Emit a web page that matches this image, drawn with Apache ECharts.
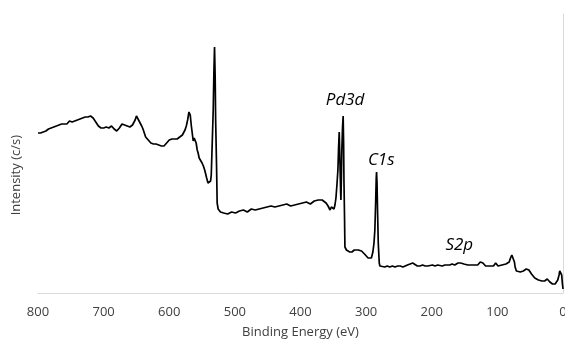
<!DOCTYPE html>
<html>
<head>
<meta charset="utf-8">
<script src="https://cdn.jsdelivr.net/npm/echarts@6/dist/echarts.min.js"></script>
<style>
html, body {margin: 0; padding: 0; background: #fff;}
#main {width: 565px; height: 344px;}
</style>
</head>
<body>
<div id="main"></div>
<script>
// XPS survey spectrum, [binding energy (eV), intensity]
var survey = [
    [800, 160], [798, 158], [796, 160], [794, 159], [792, 161], [790, 160], [788, 162], [786, 161], [784, 164], [782, 163],
    [780, 165], [778, 164], [776, 166], [774, 165], [772, 167], [770, 166], [768, 168], [766, 167], [764, 169], [762, 168],
    [760, 169], [758, 170], [756, 169], [754, 170], [752, 172], [750, 170], [748, 171], [746, 170], [744, 172], [742, 171],
    [740, 173], [738, 172], [736, 174], [734, 173], [732, 175], [730, 174], [728, 176], [726, 177], [724, 176], [722, 178],
    [720, 177], [718, 176], [716, 175], [714, 173], [712, 171], [710, 169], [708, 167], [706, 166], [704, 165], [702, 166],
    [700, 165], [698, 167], [696, 166], [694, 164], [692, 165], [690, 166], [688, 167], [686, 165], [684, 164], [682, 163],
    [680, 162], [678, 163], [676, 165], [674, 167], [672, 169], [670, 170], [668, 168], [666, 166], [664, 167], [662, 166],
    [660, 166], [658, 167], [656, 168], [654, 170], [652, 173], [650, 177], [648, 175], [646, 172], [644, 170], [642, 167],
    [640, 164], [638, 160], [636, 156], [634, 154], [632, 153], [630, 152], [628, 150], [626, 151], [624, 149], [622, 148],
    [620, 149], [618, 147], [616, 148], [614, 146], [612, 147], [610, 148], [608, 147], [606, 149], [604, 150], [602, 151],
    [600, 153], [598, 152], [596, 154], [594, 153], [592, 154], [590, 155], [588, 154], [586, 155], [584, 156], [582, 157],
    [580, 158], [578, 160], [576, 163], [574, 167], [572, 173], [570, 181], [569, 182], [568, 178], [566.5, 168], [565, 160],
    [563.5, 152], [562, 155], [560.5, 157], [559, 150], [557.4, 143], [556, 140], [554.4, 135], [552, 133], [550, 130], [548, 127],
    [546, 123], [545, 121], [543, 115], [541, 110], [539, 108], [537, 112], [536, 118], [534.5, 150], [533, 183], [532, 220],
    [531, 246], [530, 215], [529.3, 173], [528, 130], [527, 90], [525.5, 84], [524, 82], [522, 81], [519.4, 81], [517, 80],
    [514, 81], [511, 79], [508, 80], [505, 81], [502, 79], [499, 80], [496, 81], [493, 82], [490, 81], [487, 83],
    [484, 82], [481, 81], [478, 83], [475, 84], [472, 82], [469, 83], [466, 85], [463, 84], [460, 83], [457, 85],
    [454, 84], [451, 86], [448, 85], [445, 87], [442, 85], [439, 86], [436, 88], [433, 87], [430, 86], [427, 88],
    [424, 87], [421, 89], [418, 88], [415, 87], [412, 89], [409, 88], [406, 90], [403, 89], [400, 88], [397, 90],
    [394, 89], [391, 91], [388, 90], [385, 89], [382, 91], [379, 92], [376, 91], [373, 93], [370, 94], [367, 93],
    [364, 92], [361, 90], [358, 87], [355, 83], [353, 86], [352, 87], [350, 85], [349, 84], [347.5, 88], [346, 95],
    [344.5, 108], [343, 123], [342, 145], [341, 161], [340.2, 140], [339.5, 120], [338.8, 100], [338.4, 93], [337.7, 115], [337, 143],
    [336, 165], [335, 177], [334.3, 150], [333.8, 113], [333, 80], [332.3, 46], [330, 43], [327.7, 42], [325, 41], [321.7, 41],
    [318, 43], [315.6, 42], [312, 43], [309.5, 43], [307, 42], [305, 41], [302.5, 39], [300.4, 37], [297, 35], [294.3, 33],
    [292, 35], [289.7, 41], [288, 50], [286.7, 63], [285.5, 90], [284.6, 115], [284.1, 121], [283.4, 110], [282.5, 80], [281.5, 50],
    [280, 30], [279, 27], [276, 26], [271.5, 26], [268, 27], [264, 26], [260, 27], [256, 26], [252, 27], [248, 27],
    [244, 26], [241, 27], [237, 28], [233, 29], [229, 30], [226, 28], [222, 27], [218, 27], [214, 28], [210, 27],
    [206, 27], [203, 27], [199, 28], [195, 27], [191, 28], [188, 28], [184, 27], [180, 28], [176, 28], [172.6, 28],
    [169, 29], [165, 28], [162, 29], [160, 30], [158, 29], [156, 30], [154, 31], [151, 29], [148, 27], [145, 28],
    [142, 29], [140, 28], [137, 27], [135, 28], [133, 27], [130, 28], [128, 30], [126, 31], [124, 32], [122, 30],
    [120, 28], [118, 27], [115, 27], [112, 27], [109, 28], [106, 27], [104, 28], [102.6, 30], [101, 29], [99, 27],
    [96, 27], [93, 28], [90, 28], [87, 29], [84, 29], [82, 31], [80, 35], [78, 38], [76, 39], [75, 36],
    [74, 31], [73, 26], [71, 22], [68, 21], [65, 21], [63, 21], [60.5, 22], [58.5, 23], [56, 24], [54, 24],
    [52, 23], [50, 21], [48, 19], [46, 17], [43, 15], [40, 14], [37.5, 13], [35, 13], [32, 12], [30, 12],
    [28, 12], [26, 13], [24, 14], [22, 13], [20, 11], [18, 10], [16, 9], [14, 9], [12, 9], [10, 10],
    [8, 13], [6, 18], [5, 22], [4, 24], [3, 23], [2, 18], [1, 10], [0, 4]
];
var peakNames = ['Pd3d', 'C1s', 'S2p'];
var peakPos = [[332, 193], [277, 133], [158, 48]];

var peakLabels = [];
for (var j = 0; j < peakNames.length; j++) {
    peakLabels.push({name: peakNames[j], coord: peakPos[j]});
}

var option = {
    animation: false,
    backgroundColor: '#fff',
    grid: {left: 38, right: 2, top: 14, bottom: 51, outerBoundsMode: 'none'},
    xAxis: {
        type: 'value',
        inverse: true,
        min: 0, max: 800, interval: 100,
        name: 'Binding Energy (eV)',
        nameLocation: 'middle',
        nameGap: 33,
        nameTextStyle: {fontFamily: 'Open Sans', fontSize: 13, color: '#404040'},
        axisLine: {lineStyle: {color: '#d9d9d9', width: 1}},
        axisTick: {show: false},
        splitLine: {show: false},
        axisLabel: {fontFamily: 'Open Sans', fontSize: 13, color: '#404040', margin: 13}
    },
    yAxis: {
        type: 'value',
        min: 0, max: 279,
        axisLine: {show: true, lineStyle: {color: '#d9d9d9', width: 1}},
        axisTick: {show: false},
        axisLabel: {show: false},
        splitLine: {show: false}
    },
    graphic: [{
        type: 'text',
        left: 10, top: 135,
        rotation: Math.PI / 2,
        style: {text: 'Intensity (c/s)', fontFamily: 'Open Sans', fontSize: 13, fill: '#404040'}
    }],
    series: [{
        type: 'line',
        data: survey,
        symbol: 'none',
        smooth: false,
        lineStyle: {color: '#000', width: 1.7},
        markPoint: {
            symbol: 'circle',
            symbolSize: 0,
            silent: true,
            label: {
                show: true, position: 'inside',
                formatter: '{b}',
                fontFamily: 'Open Sans', fontStyle: 'italic', fontSize: 17, color: '#000'
            },
            data: peakLabels
        }
    }]
};
var myChart = echarts.init(document.getElementById('main'));
myChart.setOption(option);
</script>
</body>
</html>
